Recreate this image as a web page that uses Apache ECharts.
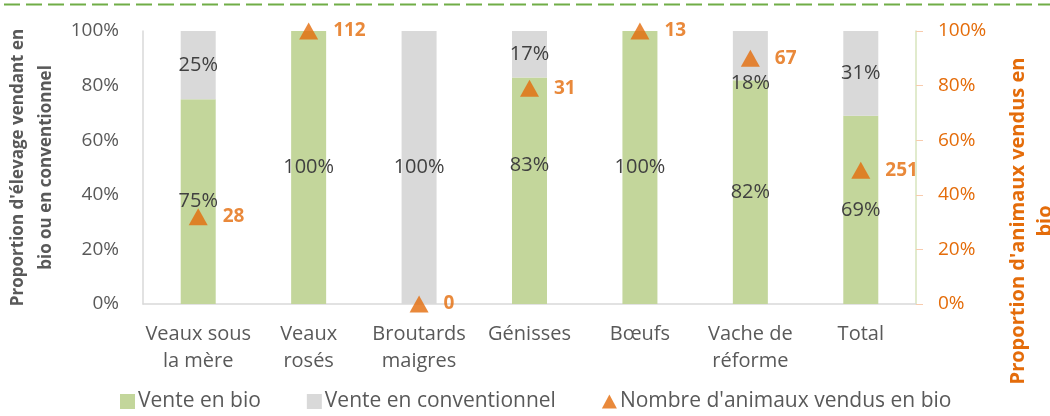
<!DOCTYPE html>
<html>
<head>
<meta charset="utf-8">
<script src="https://cdn.jsdelivr.net/npm/echarts@6/dist/echarts.min.js"></script>
<style>
    html, body { margin: 0; padding: 0; background: #fff; }
    #chart { width: 1050px; height: 416px; }
</style>
</head>
<body>
<div id="chart"></div>
<script>
const categories = ["Veaux sous\nla mère", "Veaux\nrosés", "Broutards\nmaigres", "Génisses", "Bœufs", "Vache de\nréforme", "Total"];
const venteBio = [75, 100, 0, 83, 100, 82, 69];
const venteConv = [25, 0, 100, 17, 0, 18, 31];
// proportion d'animaux vendus en bio (axe droit) et nombre d'animaux
const partAnimauxBio = [32, 100, 0, 79, 100, 90, 49];
const nbAnimauxBio = [28, 112, 0, 31, 13, 67, 251];
const pctTicks = [0, 20, 40, 60, 80, 100];

const font = "Open Sans";
const grey = "#595959";
const orange = "#e46c0a";

// petits decalages des etiquettes comme sur l'original
const bioOffsets = [0, 0, 0, -25, 0, 0, 0];
const convOffsets = [0, 0, 0, 0, 0, 28, 0];

function barData(values, offsets) {
    return values.map((v, i) => ({
        value: v,
        label: { show: v > 0, offset: [0, offsets[i]] },
    }));
}

const chart = echarts.init(document.getElementById("chart"));
const option = {
    animation: false,
    textStyle: { fontFamily: font },
    grid: { left: 143, right: 134, top: 31, bottom: 112, outerBoundsMode: "none" },
    legend: {
        bottom: -1,
        left: 115,
        itemGap: 46,
        itemWidth: 15,
        itemHeight: 15,
        textStyle: { fontFamily: font, fontSize: 21, color: grey, padding: [0, 0, 0, -2] },
        data: [
            { name: "Vente en bio", icon: "rect" },
            { name: "Vente en conventionnel", icon: "rect" },
            { name: "Nombre d'animaux vendus en bio", icon: "path://M6.5,0L13,12L0,12Z" },
        ],
    },
    xAxis: {
        type: "category",
        data: categories,
        axisTick: { show: false },
        axisLine: { lineStyle: { color: "#d9d9d9", width: 1.5 } },
        axisLabel: {
            interval: 0,
            margin: 17,
            fontFamily: font,
            fontSize: 20,
            lineHeight: 27,
            color: grey,
        },
    },
    yAxis: [
        {
            type: "value",
            min: 0,
            max: 100,
            interval: 20,
            splitLine: { show: false },
            axisLine: { show: true, lineStyle: { color: "#d9d9d9", width: 1.5 } },
            axisTick: { show: false },
            axisLabel: {
                fontFamily: font,
                fontSize: 19,
                color: grey,
                margin: 24,
                formatter: (v) => (pctTicks.includes(v) ? v + "%" : ""),
            },
            name: "Proportion d'élevage vendant en\nbio ou en conventionnel",
            nameLocation: "middle",
            nameRotate: 90,
            nameGap: 82,
            nameTextStyle: {
                fontFamily: font,
                fontSize: 17,
                fontWeight: "bold",
                color: grey,
                lineHeight: 28,
            },
        },
        {
            type: "value",
            min: 0,
            max: 100,
            interval: 20,
            position: "right",
            splitLine: { show: false },
            axisLine: { show: true, lineStyle: { color: "#d7e4bd", width: 1.5 } },
            axisTick: { show: true, length: 7, lineStyle: { color: "#f8cbad" } },
            axisLabel: {
                fontFamily: font,
                fontSize: 19,
                color: orange,
                margin: 22,
                formatter: (v) => v + "%",
            },
        },
    ],
    series: [
        {
            name: "Vente en bio",
            type: "bar",
            stack: "total",
            barWidth: 35,
            itemStyle: { color: "#c3d69b" },
            label: {
                position: "inside",
                fontFamily: font,
                fontSize: 20,
                color: "#404040",
                formatter: "{c}%",
            },
            data: barData(venteBio, bioOffsets),
        },
        {
            name: "Vente en conventionnel",
            type: "bar",
            stack: "total",
            barWidth: 35,
            itemStyle: { color: "#d9d9d9" },
            label: {
                position: "inside",
                fontFamily: font,
                fontSize: 20,
                color: "#404040",
                formatter: "{c}%",
            },
            data: barData(venteConv, convOffsets),
        },
        {
            name: "Nombre d'animaux vendus en bio",
            type: "scatter",
            yAxisIndex: 1,
            symbol: "triangle",
            symbolSize: [19, 17],
            itemStyle: { color: orange },
            z: 5,
            label: {
                show: true,
                position: "right",
                distance: 15,
                fontFamily: font,
                fontSize: 19,
                fontWeight: "bold",
                color: orange,
                formatter: (p) => nbAnimauxBio[p.dataIndex],
            },
            data: partAnimauxBio,
        },
    ],
    graphic: [
        {
            type: "line",
            shape: { x1: 4, y1: 4.5, x2: 1050, y2: 4.5 },
            style: { stroke: "#70ad47", lineWidth: 2.2, lineDash: [16, 6] },
        },
        {
            type: "text",
            x: 1032,
            y: 221,
            rotation: Math.PI / 2,
            style: {
                text: "Proportion d'animaux vendus en\nbio",
                fontFamily: font,
                fontSize: 20,
                fontWeight: "bold",
                fill: orange,
                align: "center",
                verticalAlign: "middle",
                lineHeight: 27,
            },
        },
    ],
};
option && chart.setOption(option);
</script>
</body>
</html>
